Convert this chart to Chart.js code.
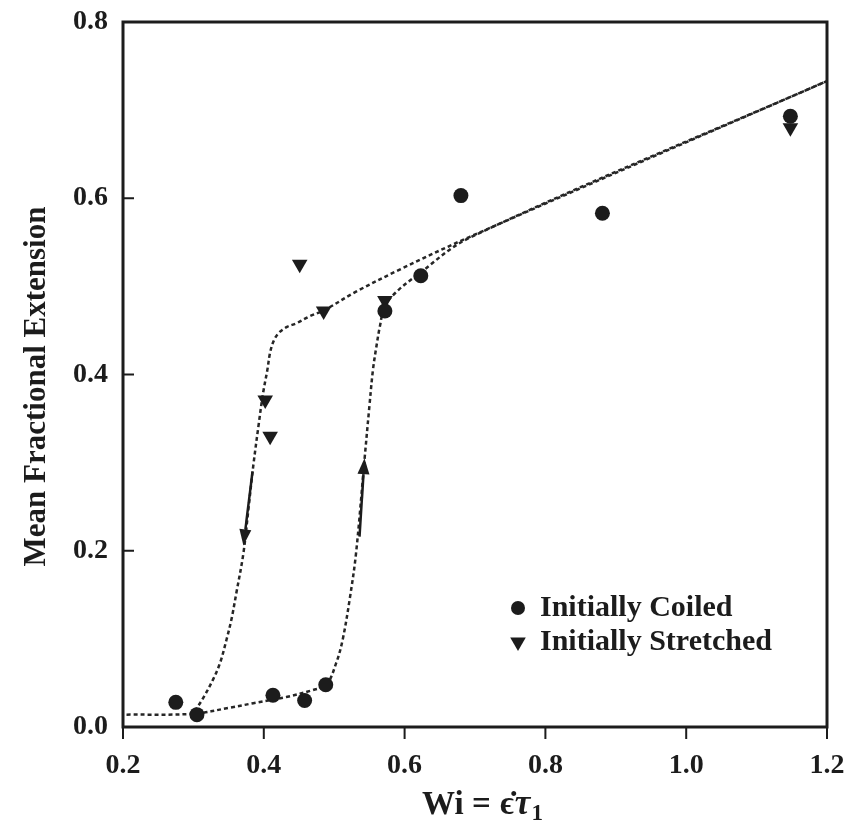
<!DOCTYPE html>
<html>
<head>
<meta charset="utf-8">
<script src="https://cdn.jsdelivr.net/npm/chart.js@4/dist/chart.umd.min.js"></script>
<style>
  body { margin: 0; background: #fff; }
  canvas { display: block; }
</style>
</head>
<body>
<canvas id="extChart" width="851" height="823"></canvas>
<script>
// measured points
const coiledX = [0.275, 0.305, 0.413, 0.458, 0.488, 0.572, 0.623, 0.680, 0.881, 1.148];
const coiledY = [0.028, 0.014, 0.036, 0.030, 0.048, 0.472, 0.512, 0.603, 0.583, 0.693];
const stretchedX = [0.402, 0.409, 0.451, 0.485, 0.572, 1.148];
const stretchedY = [0.371, 0.330, 0.525, 0.472, 0.484, 0.680];

// dotted guide curves
const coiledFitX = [0.205, 0.300, 0.352, 0.385, 0.432, 0.470, 0.489, 0.503, 0.512, 0.522, 0.531, 0.543, 0.550, 0.555, 0.560, 0.565, 0.572, 0.590, 0.615, 0.692, 1.2];
const coiledFitY = [0.014, 0.015, 0.022, 0.027, 0.034, 0.042, 0.048, 0.073, 0.099, 0.145, 0.197, 0.303, 0.364, 0.405, 0.432, 0.455, 0.478, 0.495, 0.511, 0.555, 0.733];
const stretchedFitX = [0.302, 0.314, 0.328, 0.338, 0.347, 0.354, 0.361, 0.371, 0.378, 0.385, 0.393, 0.399, 0.405, 0.409, 0.414, 0.421, 0.433, 0.446, 0.465, 0.487, 0.531, 0.593, 0.692, 1.2];
const stretchedFitY = [0.018, 0.033, 0.054, 0.073, 0.099, 0.122, 0.152, 0.197, 0.246, 0.296, 0.345, 0.379, 0.405, 0.425, 0.438, 0.447, 0.454, 0.458, 0.466, 0.4735, 0.494, 0.519, 0.556, 0.733];

// arrows: [x0, y0, x1, y1] (tail -> tip)
const arrowDown = [0.384, 0.290, 0.371, 0.206];
const arrowUp = [0.536, 0.216, 0.543, 0.305];

const xTicks = [0.2, 0.4, 0.6, 0.8, 1.0, 1.2];
const yTicks = [0.0, 0.2, 0.4, 0.6, 0.8];

const legendLabels = ['Initially Coiled', 'Initially Stretched'];
const yTitle = 'Mean Fractional Extension';

const ink = '#1c1c1c';
const serif = "'Liberation Serif', 'DejaVu Serif', serif";

function pairs(xs, ys) {
  return xs.map((x, i) => ({ x: x, y: ys[i] }));
}

// frame, inward y ticks, outward x ticks, arrows, legend, axis titles
const decorPlugin = {
  id: 'decor',
  afterDatasetsDraw(chart) {
    const { ctx, chartArea: a, scales } = chart;
    const xs = scales.x, ys = scales.y;
    ctx.save();
    ctx.strokeStyle = ink;
    ctx.lineWidth = 3;
    ctx.strokeRect(a.left, a.top, a.right - a.left, a.bottom - a.top);

    ctx.lineWidth = 2;
    ctx.beginPath();
    yTicks.forEach(v => {
      const py = ys.getPixelForValue(v);
      ctx.moveTo(a.left, py);
      ctx.lineTo(a.left + 11, py);
    });
    xTicks.forEach(v => {
      const px = xs.getPixelForValue(v);
      ctx.moveTo(px, a.bottom);
      ctx.lineTo(px, a.bottom + 12);
    });
    ctx.stroke();

    // arrows
    [arrowDown, arrowUp].forEach(ar => {
      const x0 = xs.getPixelForValue(ar[0]), y0 = ys.getPixelForValue(ar[1]);
      const x1 = xs.getPixelForValue(ar[2]), y1 = ys.getPixelForValue(ar[3]);
      const ang = Math.atan2(y1 - y0, x1 - x0);
      const headLen = 16, headW = 6;
      const bx = x1 - Math.cos(ang) * headLen, by = y1 - Math.sin(ang) * headLen;
      ctx.lineWidth = 2.5;
      ctx.beginPath();
      ctx.moveTo(x0, y0);
      ctx.lineTo(bx, by);
      ctx.stroke();
      ctx.fillStyle = ink;
      ctx.beginPath();
      ctx.moveTo(x1, y1);
      ctx.lineTo(bx + Math.sin(ang) * headW, by - Math.cos(ang) * headW);
      ctx.lineTo(bx - Math.sin(ang) * headW, by + Math.cos(ang) * headW);
      ctx.closePath();
      ctx.fill();
    });

    // legend
    const lx = a.left + 395, ly = a.top + 586, gap = 34;
    ctx.fillStyle = ink;
    ctx.beginPath();
    ctx.arc(lx, ly, 7, 0, Math.PI * 2);
    ctx.fill();
    const r = 9, ty = ly + gap;
    ctx.beginPath();
    ctx.moveTo(lx, ty + r);
    ctx.lineTo(lx - r * 0.866, ty - r * 0.5);
    ctx.lineTo(lx + r * 0.866, ty - r * 0.5);
    ctx.closePath();
    ctx.fill();
    ctx.font = 'bold 30px ' + serif;
    ctx.textBaseline = 'middle';
    ctx.fillText(legendLabels[0], lx + 22, ly);
    ctx.fillText(legendLabels[1], lx + 22, ty);

    // y title
    ctx.save();
    ctx.translate(37, (a.top + a.bottom) / 2 + 12);
    ctx.rotate(-Math.PI / 2);
    ctx.textAlign = 'center';
    ctx.font = 'bold 31px ' + serif;
    ctx.fillText(yTitle, 0, 0);
    ctx.restore();

    // x title: Wi = ϵ̇ τ1
    const parts = [
      { t: 'Wi = ', f: 'bold 33px ' + serif, dy: 0 },
      { t: 'ϵ̇', f: 'bold 33px ' + serif, dy: 0 },
      { t: 'τ', f: 'italic bold 35px ' + serif, dy: 0 },
      { t: '1', f: 'bold 23px ' + serif, dy: 6 }
    ];
    let total = 0;
    parts.forEach(p => { ctx.font = p.f; p.w = ctx.measureText(p.t).width; total += p.w + 1; });
    let cx = (a.left + a.right) / 2 + 8 - total / 2;
    const base = 814;
    ctx.textAlign = 'left';
    ctx.textBaseline = 'alphabetic';
    parts.forEach(p => { ctx.font = p.f; ctx.fillText(p.t, cx, base + p.dy); cx += p.w + 1; });
    ctx.restore();
  }
};

const chart = new Chart(document.getElementById('extChart').getContext('2d'), {
  type: 'scatter',
  data: {
    datasets: [
      { label: legendLabels[0], data: pairs(coiledX, coiledY), pointStyle: 'circle', pointRadius: 7.5,
        backgroundColor: ink, borderColor: ink, borderWidth: 0, order: 0 },
      { label: legendLabels[1], data: pairs(stretchedX, stretchedY), pointStyle: 'triangle', pointRotation: 180,
        pointRadius: 9, backgroundColor: ink, borderColor: ink, borderWidth: 0, order: 1 },
      { label: 'coiled fit', data: pairs(coiledFitX, coiledFitY), showLine: true, pointRadius: 0,
        borderColor: '#262626', borderWidth: 2.5, borderDash: [4, 3], tension: 0.35, order: 2 },
      { label: 'stretched fit', data: pairs(stretchedFitX, stretchedFitY), showLine: true, pointRadius: 0,
        borderColor: '#262626', borderWidth: 2.5, borderDash: [4, 3], tension: 0.35, order: 3 }
    ]
  },
  options: {
    responsive: false,
    animation: false,
    layout: { padding: { left: 0, top: 22, right: 24, bottom: 0 } },
    plugins: {
      legend: { display: false },
      tooltip: { enabled: false }
    },
    scales: {
      x: {
        type: 'linear',
        min: 0.2, max: 1.2,
        afterFit: s => { s.height = 96; },
        border: { display: false },
        grid: { display: true, drawOnChartArea: false, drawTicks: true, tickLength: 22, tickColor: 'rgba(0,0,0,0)' },
        ticks: {
          stepSize: 0.2, padding: 0, color: ink,
          font: { family: serif, size: 28, weight: 'bold' },
          callback: v => v.toFixed(1)
        }
      },
      y: {
        type: 'linear',
        min: 0, max: 0.8,
        afterFit: s => { s.width = 123; },
        border: { display: false },
        grid: { display: true, drawOnChartArea: false, drawTicks: true, tickLength: 15, tickColor: 'rgba(0,0,0,0)' },
        ticks: {
          stepSize: 0.2, padding: 0, color: ink,
          font: { family: serif, size: 28, weight: 'bold' },
          callback: v => v.toFixed(1)
        }
      }
    }
  },
  plugins: [decorPlugin]
});
</script>
</body>
</html>
